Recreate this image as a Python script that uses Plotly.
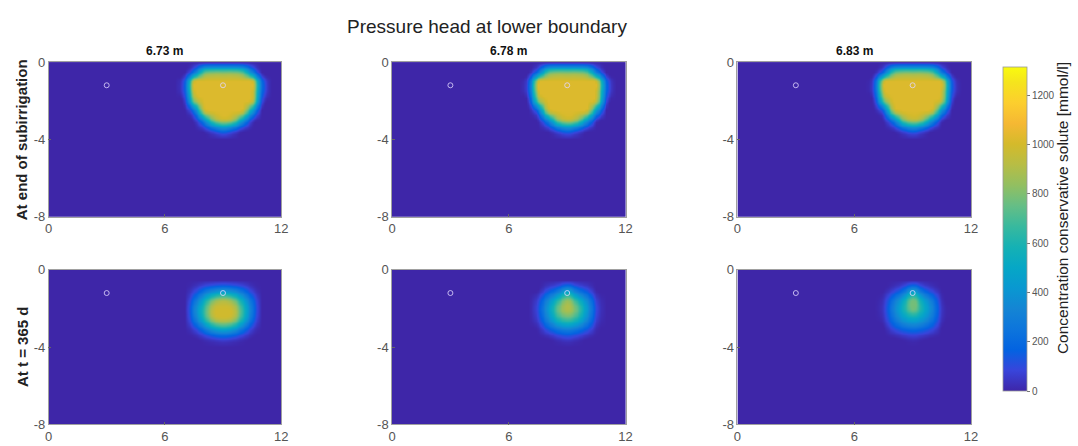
import numpy as np
import plotly.graph_objects as go

# ---------------- data ----------------
col_titles = ["6.73 m", "6.78 m", "6.83 m"]
row_titles = ["At end of subirrigation", "At t = 365 d"]
main_title = "Pressure head at lower boundary"
cbar_title = "Concentration conservative solute [mmol/l]"

x_ticks = [0, 6, 12]
y_ticks = [0, -4, -8]
y_ticklabels = ["0", "-4", "-8"]
cbar_ticks = [0, 200, 400, 600, 800, 1000, 1200]
c_min, c_max = 0, 1313

# full domain grid (m)
x_grid = [i * 0.5 for i in range(25)]          # 0 .. 12
y_grid = [-i * 0.5 for i in range(17)]         # 0 .. -8

# plume window (nodes) where concentration is non-zero
plume_x = [6.5, 7.0, 7.5, 8.0, 8.5, 9.0, 9.5, 10.0, 10.5, 11.0, 11.5]
plume_y = [0.0, -0.5, -1.0, -1.5, -2.0, -2.5, -3.0, -3.5, -4.0]

# concentration [mmol/l], rows = plume_y, cols = plume_x
conc_end_673 = [
    [0,   0,    0,    0,    0,    0,    0,    0,    0,   0, 0],
    [0,   0,  250,  700,  780,  780,  780,  700,  300,   0, 0],
    [0, 150,  980, 1020, 1020, 1020, 1020, 1020,  980, 200, 0],
    [0, 150,  980, 1020, 1020, 1020, 1020, 1020,  980, 200, 0],
    [0,  60,  780, 1020, 1020, 1020, 1020, 1020,  920, 100, 0],
    [0,   0,  250,  930, 1020, 1020, 1020,  980,  440,   0, 0],
    [0,   0,   30,  350,  780,  930,  830,  440,   60,   0, 0],
    [0,   0,    0,   30,  150,  250,  150,   30,    0,   0, 0],
    [0,   0,    0,    0,    0,    0,    0,    0,    0,   0, 0],
]
conc_end_678 = [
    [0,   0,    0,    0,    0,    0,    0,    0,    0,   0, 0],
    [0,   0,  250,  700,  780,  780,  780,  700,  280,   0, 0],
    [0, 140,  980, 1020, 1020, 1020, 1020, 1020,  970, 180, 0],
    [0, 140,  980, 1020, 1020, 1020, 1020, 1020,  970, 180, 0],
    [0,  50,  760, 1020, 1020, 1020, 1020, 1020,  900,  90, 0],
    [0,   0,  240,  920, 1020, 1020, 1020,  970,  420,   0, 0],
    [0,   0,   30,  340,  770,  920,  810,  420,   50,   0, 0],
    [0,   0,    0,   30,  150,  240,  150,   30,    0,   0, 0],
    [0,   0,    0,    0,    0,    0,    0,    0,    0,   0, 0],
]
conc_end_683 = [
    [0,   0,    0,    0,    0,    0,    0,    0,    0,   0, 0],
    [0,   0,  220,  690,  780,  780,  780,  690,  260,   0, 0],
    [0, 120,  960, 1020, 1020, 1020, 1020, 1020,  950, 150, 0],
    [0, 120,  960, 1020, 1020, 1020, 1020, 1020,  950, 150, 0],
    [0,  40,  720, 1020, 1020, 1020, 1020, 1020,  870,  70, 0],
    [0,   0,  200,  900, 1020, 1020, 1020,  950,  380,   0, 0],
    [0,   0,   20,  300,  740,  900,  780,  380,   40,   0, 0],
    [0,   0,    0,   20,  130,  220,  130,   20,    0,   0, 0],
    [0,   0,    0,    0,    0,    0,    0,    0,    0,   0, 0],
]
conc_365_673 = [
    [0, 0,   0,   0,   0,   0,   0,   0,   0, 0, 0],
    [0, 0,   0,   0,   0,   0,   0,   0,   0, 0, 0],
    [0, 0,  60, 180, 280, 330, 280, 180,  50, 0, 0],
    [0, 0, 200, 480, 750, 850, 750, 480, 180, 0, 0],
    [0, 0, 300, 640, 950, 990, 950, 640, 240, 0, 0],
    [0, 0, 250, 590, 900, 970, 900, 590, 200, 0, 0],
    [0, 0,  90, 280, 490, 570, 490, 280,  70, 0, 0],
    [0, 0,   0,  40,  90, 120,  90,  40,   0, 0, 0],
    [0, 0,   0,   0,   0,   0,   0,   0,   0, 0, 0],
]
conc_365_678 = [
    [0, 0,   0,   0,   0,   0,   0,   0,   0, 0, 0],
    [0, 0,   0,   0,   0,   0,   0,   0,   0, 0, 0],
    [0, 0,   0, 100, 210, 380, 210, 100,   0, 0, 0],
    [0, 0,  80, 320, 570, 800, 570, 320,  60, 0, 0],
    [0, 0, 120, 420, 740, 900, 740, 420,  90, 0, 0],
    [0, 0,  90, 350, 610, 720, 610, 350,  70, 0, 0],
    [0, 0,  20, 160, 290, 350, 290, 160,  20, 0, 0],
    [0, 0,   0,  10,  50,  80,  50,  10,   0, 0, 0],
    [0, 0,   0,   0,   0,   0,   0,   0,   0, 0, 0],
]
conc_365_683 = [
    [0, 0,  0,   0,   0,   0,   0,   0, 0, 0, 0],
    [0, 0,  0,   0,   0,   0,   0,   0, 0, 0, 0],
    [0, 0,  0,  60, 170, 370, 170,  60, 0, 0, 0],
    [0, 0, 40, 240, 470, 760, 470, 240, 20, 0, 0],
    [0, 0, 60, 310, 560, 780, 560, 310, 40, 0, 0],
    [0, 0, 40, 250, 430, 520, 430, 250, 30, 0, 0],
    [0, 0,  0, 110, 200, 240, 200, 110, 0, 0, 0],
    [0, 0,  0,   0,  20,  40,  20,   0, 0, 0, 0],
    [0, 0,  0,   0,   0,   0,   0,   0, 0, 0, 0],
]
panels = [
    [conc_end_673, conc_end_678, conc_end_683],
    [conc_365_673, conc_365_678, conc_365_683],
]

# observation points (m)
obs_x = [3, 9]
obs_y = [-1.2, -1.2]

# parula colormap samples (index in 64-colour table, rgb 0..1)
parula_idx = [1, 5, 9, 13, 17, 21, 25, 29, 33, 37, 41, 45, 49, 53, 57, 61, 64]
parula_rgb = [
    (0.2422, 0.1504, 0.6603), (0.2200, 0.2700, 0.8600), (0.0117, 0.3875, 0.8820),
    (0.0498, 0.4586, 0.8641), (0.0793, 0.5200, 0.8312), (0.0343, 0.5966, 0.8199),
    (0.0228, 0.6535, 0.7768), (0.0843, 0.6928, 0.7062), (0.2178, 0.7250, 0.6193),
    (0.3953, 0.7459, 0.5244), (0.5709, 0.7485, 0.3800), (0.7184, 0.7411, 0.2700),
    (0.8300, 0.7300, 0.1700), (0.9600, 0.7200, 0.2000), (0.9880, 0.8066, 0.1794),
    (0.9589, 0.8949, 0.1132), (0.9763, 0.9831, 0.0538),
]


# ---------------- helpers ----------------
def catmull_matrix(n_old, factor):
    n_new = (n_old - 1) * factor + 1
    M = np.zeros((n_new, n_old))
    for j in range(n_new):
        i = min(j // factor, n_old - 2)
        t = (j - i * factor) / factor
        w = [(-t**3 + 2 * t**2 - t) / 2, (3 * t**3 - 5 * t**2 + 2) / 2,
             (-3 * t**3 + 4 * t**2 + t) / 2, (t**3 - t**2) / 2]
        for d, wd in zip(range(-1, 3), w):
            k = min(max(i + d, 0), n_old - 1)
            M[j, k] += wd
    return M


W, H = 1078, 446
col_px = [(45, 280), (392, 628), (741, 977)]
row_px = [(57, 217), (272, 432)]
UP = 4

colorscale = [[(i - 1) / 63, "rgb(%d,%d,%d)" % tuple(int(round(c * 255)) for c in p)]
              for i, p in zip(parula_idx, parula_rgb)]

Mx = catmull_matrix(len(x_grid), UP)
My = catmull_matrix(len(y_grid), UP)
x_fine = np.linspace(x_grid[0], x_grid[-1], Mx.shape[0])
y_fine = np.linspace(y_grid[0], y_grid[-1], My.shape[0])

fig = go.Figure()
font_family = "Liberation Sans, Arial, sans-serif"

xi = {round(v, 2): i for i, v in enumerate(x_grid)}
yi = {round(v, 2): i for i, v in enumerate(y_grid)}

k = 0
for r in range(2):
    for c in range(3):
        k += 1
        sfx = "" if k == 1 else str(k)
        z = np.zeros((len(y_grid), len(x_grid)))
        vals = panels[r][c]
        for a, yv in enumerate(plume_y):
            for b, xv in enumerate(plume_x):
                z[yi[round(yv, 2)], xi[round(xv, 2)]] = vals[a][b]
        zf = np.clip(My @ z @ Mx.T, 0, z.max())
        fig.add_trace(go.Heatmap(
            x=x_fine, y=y_fine, z=zf, zsmooth="best",
            colorscale=colorscale, zmin=c_min, zmax=c_max,
            showscale=(k == 1), xaxis="x" + sfx, yaxis="y" + sfx,
            hoverinfo="skip",
            colorbar=dict(
                x=1009 / W, xanchor="left", xpad=0, ypad=0,
                y=1 - 230 / H, yanchor="middle", len=324, lenmode="pixels",
                thickness=24, thicknessmode="pixels",
                outlinecolor="#9a9a9a", outlinewidth=0.8,
                tickvals=cbar_ticks, ticks="outside", ticklen=3, tickcolor="#777",
                tickfont=dict(family=font_family, size=10, color="#555"),
            ),
        ))
        fig.add_trace(go.Scatter(
            x=obs_x, y=obs_y, mode="markers", xaxis="x" + sfx, yaxis="y" + sfx,
            marker=dict(symbol="circle-open", size=5, color="rgba(225,215,255,0.8)",
                        line=dict(width=1)),
            hoverinfo="skip", showlegend=False,
        ))
        x0, x1 = col_px[c]
        y0, y1 = row_px[r]
        axis_common = dict(showgrid=False, zeroline=False, showline=True, mirror=True,
                           linecolor="#a0a0a0", linewidth=0.5, ticks="inside",
                           ticklen=3, tickcolor="#666",
                           tickfont=dict(family=font_family, size=13, color="#555"))
        fig.update_layout({
            "xaxis" + sfx: dict(domain=[x0 / W, x1 / W], range=[0, 12],
                                tickvals=x_ticks, anchor="y" + sfx, **axis_common),
            "yaxis" + sfx: dict(domain=[1 - y1 / H, 1 - y0 / H], range=[-8, 0],
                                tickvals=y_ticks, ticktext=y_ticklabels,
                                anchor="x" + sfx, **axis_common),
        })

annotations = []
for c in range(3):
    x0, x1 = col_px[c]
    annotations.append(dict(text="<b>" + col_titles[c] + "</b>", x=(x0 + x1) / 2 / W,
                            y=1 - 46 / H, xref="paper", yref="paper", showarrow=False,
                            xanchor="center", yanchor="middle",
                            font=dict(family=font_family, size=12, color="#111")))
for r in range(2):
    y0, y1 = row_px[r]
    annotations.append(dict(text="<b>" + row_titles[r] + "</b>", x=18 / W,
                            y=1 - (y0 + y1) / 2 / H, xref="paper", yref="paper",
                            showarrow=False, textangle=-90, xanchor="center",
                            yanchor="middle",
                            font=dict(family=font_family, size=15, color="#222")))
annotations.append(dict(text=main_title, x=487.5 / W, y=1 - 20 / H, xref="paper",
                        yref="paper", showarrow=False, xanchor="center", yanchor="middle",
                        font=dict(family=font_family, size=19, color="#222")))
annotations.append(dict(text=cbar_title, x=1069 / W, y=1 - 208 / H,
                        xref="paper", yref="paper", showarrow=False, textangle=-90,
                        xanchor="center", yanchor="middle",
                        font=dict(family=font_family, size=15.5, color="#222")))

fig.update_layout(width=W, height=H, margin=dict(l=0, r=0, t=0, b=0),
                  paper_bgcolor="white", plot_bgcolor="white", showlegend=False,
                  annotations=annotations)

fig.write_html("out.html")
